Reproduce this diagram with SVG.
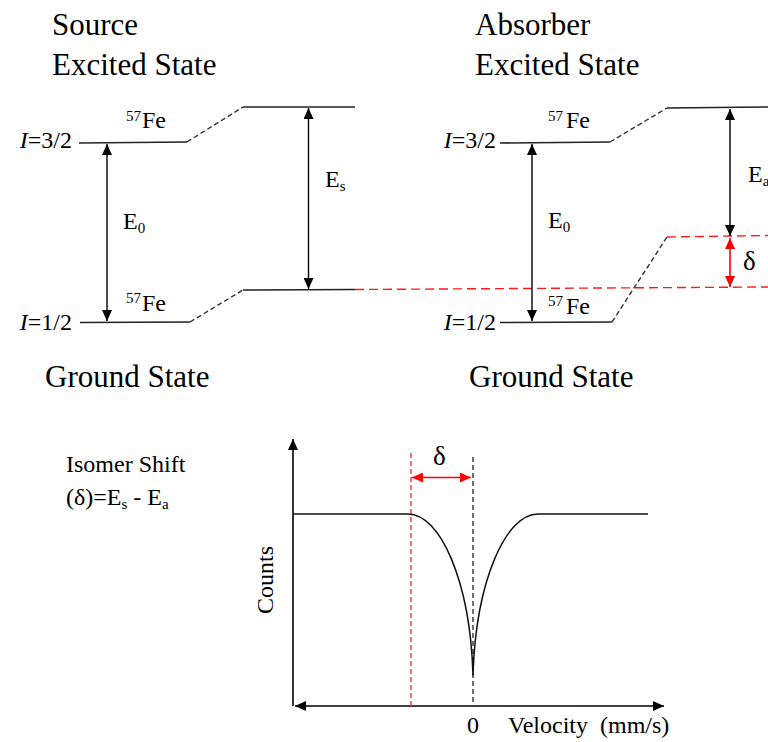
<svg xmlns="http://www.w3.org/2000/svg" width="768" height="742" viewBox="0 0 768 742">
<style>
text{font-family:"Liberation Serif","Times New Roman",serif;fill:#000}
.title{font-size:31px}
.lbl{font-size:24px}
.sup{font-size:15px}
.lvl{stroke:#222;stroke-width:1.6;fill:none}
.dash{stroke:#333;stroke-width:1.4;stroke-dasharray:5 3;fill:none}
.red{stroke:#ff1a1a;stroke-width:1.4;stroke-dasharray:9 5;fill:none}
.arr{stroke:#000;stroke-width:1.4;fill:none;marker-start:url(#ab);marker-end:url(#ab)}
.arrR{stroke:#ff0000;stroke-width:1.6;fill:none;marker-start:url(#ar);marker-end:url(#ar)}
</style>
<defs>
<marker id="ab" markerUnits="userSpaceOnUse" markerWidth="12" markerHeight="10" refX="11" refY="5" orient="auto-start-reverse"><path d="M0,0 L11,5 L0,10 z" fill="#000"/></marker>
<marker id="ar" markerUnits="userSpaceOnUse" markerWidth="12" markerHeight="10" refX="11" refY="5" orient="auto-start-reverse"><path d="M0,0 L11,5 L0,10 z" fill="#ff0000"/></marker>
</defs>
<rect width="768" height="742" fill="#fff"/>

<g id="titles">
<text class="title" x="52" y="35">Source</text>
<text class="title" x="52" y="75">Excited State</text>
<text class="title" x="475" y="35">Absorber</text>
<text class="title" x="475" y="75">Excited State</text>
<text class="title" x="45" y="387">Ground State</text>
<text class="title" x="469" y="387">Ground State</text>
</g>

<g id="source-levels">
<text class="lbl" x="72" y="148" text-anchor="end"><tspan font-style="italic">I</tspan>=3/2</text>
<text class="lbl" x="72" y="330" text-anchor="end"><tspan font-style="italic">I</tspan>=1/2</text>
<path class="lvl" d="M79,143 L187,142"/>
<path class="lvl" d="M243,107 L355,107"/>
<path class="lvl" d="M80,322.5 L190,322"/>
<path class="lvl" d="M243,290 L355,289.5"/>
<text x="126" y="121" class="sup">57</text><text class="lbl" x="142" y="128">Fe</text>
<text x="126" y="303" class="sup">57</text><text class="lbl" x="142" y="311">Fe</text>
<text class="lbl" x="123" y="229">E<tspan class="sup" dy="4">0</tspan></text>
<text class="lbl" x="325" y="187">E<tspan class="sup" dy="4">s</tspan></text>
</g>

<g id="absorber-levels">
<text class="lbl" x="496" y="148" text-anchor="end"><tspan font-style="italic">I</tspan>=3/2</text>
<text class="lbl" x="496" y="330" text-anchor="end"><tspan font-style="italic">I</tspan>=1/2</text>
<path class="lvl" d="M500,143 L610,142"/>
<path class="lvl" d="M667,108 L768,107"/>
<path class="lvl" d="M500,322.5 L612,322"/>
<text x="548" y="121" class="sup">57</text><text class="lbl" x="566" y="128">Fe</text>
<text x="548" y="306" class="sup">57</text><text class="lbl" x="566" y="314">Fe</text>
<text class="lbl" x="548" y="228">E<tspan class="sup" dy="4">0</tspan></text>
<text class="lbl" x="748" y="182">E<tspan class="sup" dy="4">a</tspan></text>
<text x="743" y="270" style="font-size:27px">δ</text>
</g>

<g id="connectors">
<path class="dash" d="M187,142 L243,107"/>
<path class="dash" d="M190,322 L243,290"/>
<path class="dash" d="M610,142 L667,108"/>
<path class="dash" d="M612,322 L667,237"/>
<path class="red" d="M355,289.5 L768,287"/>
<path class="red" d="M667,237 L768,235.5"/>
<path class="arr" d="M107,144 L107,321"/>
<path class="arr" d="M308.5,108 L308.5,289"/>
<path class="arr" d="M532,144 L532,321"/>
<path class="arr" d="M730,109 L730,236"/>
<path class="arrR" d="M730,238 L730,287"/>
</g>

<g id="formula">
<text class="lbl" x="66" y="472">Isomer Shift</text>
<text class="lbl" x="66" y="505">(δ)=E<tspan class="sup" dy="4">s</tspan><tspan dy="-4"> - E</tspan><tspan class="sup" dy="4">a</tspan></text>
</g>

<g id="spectrum">
<path d="M293,706 L293,439" stroke="#000" stroke-width="1.6" fill="none" marker-end="url(#ab)"/>
<path class="arr" d="M295,706 L664,706" style="stroke-width:1.6"/>
<path d="M411,453 L411,706" stroke="#ff3030" stroke-width="1.4" stroke-dasharray="5 3" fill="none"/>
<path d="M473,457 L473,706" stroke="#333" stroke-width="1.4" stroke-dasharray="5 3" fill="none"/>
<path class="arrR" d="M412,477.5 L471,477.5" style="stroke-dasharray:none"/>
<text x="433" y="465" style="font-size:27px">δ</text>
<path fill="none" stroke="#111" stroke-width="1.5" stroke-linejoin="round" d="M293,514 L408,514 C440,514 470,580 473,675 C476,580 506,514 538,514 L648,514"/>
<text class="lbl" transform="translate(273,580) rotate(-90)" text-anchor="middle">Counts</text>
<text class="lbl" x="473" y="733" text-anchor="middle">0</text>
<text class="lbl" x="508" y="733" xml:space="preserve">Velocity  (mm/s)</text>
</g>
</svg>
